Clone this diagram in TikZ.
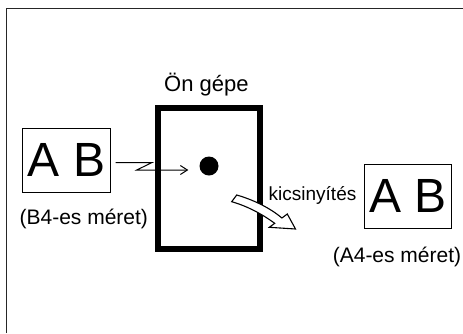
\documentclass[tikz,border=0pt]{standalone}
\usepackage{fontspec}
\setmainfont{Liberation Sans}
\usetikzlibrary{arrows.meta}
\begin{document}
\begin{tikzpicture}[x=1pt,y=-1pt,
  abbox/.style={draw,line width=1.3pt,inner sep=0pt,minimum width=87.6pt,minimum height=64pt,font=\fontsize{48}{50}\selectfont},
  lbl/.style={anchor=base,inner sep=0pt,font=\fontsize{21}{24}\selectfont},
  machine/.style={draw,line width=6pt,inner sep=0pt,minimum width=102.3pt,minimum height=141pt},
  thinarrow/.style={line width=1pt,-{Straight Barb[length=7pt,width=9pt]}},
  blockarrow/.style={draw,line width=1.1pt,fill=white,line join=miter}]
\useasboundingbox (0,0) rectangle (463,333);
% outer frame (partly visible)
\draw[line width=1.4pt,black!85] (6.7,333) -- (6.7,8.3) -- (463,8.3);
% machine
\node[machine] (gep) at (209.2,178.5) {};
\node[lbl,font=\fontsize{22}{24}\selectfont] (geptxt) at (206.4,91) {Ön gépe};
\node[circle,fill,inner sep=0pt,minimum size=19pt] (dot) at (209,166) {};
% left sheet
\node[abbox] (b4) at (66.5,160.3) {A B};
\node[lbl] (b4txt) at (83.8,224.7) {(B4-es méret)};
% right sheet
\node[abbox] (a4) at (408,196.2) {A B};
\node[lbl] (a4txt) at (397,262) {(A4-es méret)};
\node[lbl,font=\fontsize{19}{22}\selectfont] (kics) at (312.5,200.7) {kicsinyítés};
% zigzag arrow
\coordinate (z1) at (151.7,162.7);
\coordinate (z2) at (136.7,170);
\draw[thinarrow] ([xshift=4.7pt,yshift=-2.4pt]b4.east) -- (z1) -- (z2) -- ([xshift=-11pt,yshift=-4pt]dot.west);
% curved block arrow
\draw[blockarrow] (236.7,195) .. controls (254,200) and (270,208) .. (281.9,218)
  -- (287.3,214) -- (295.5,229) -- (269.3,227.3) -- (274.7,223.3)
  .. controls (262,214) and (247,206) .. (231.7,201.7) -- cycle;
\end{tikzpicture}
\end{document}
